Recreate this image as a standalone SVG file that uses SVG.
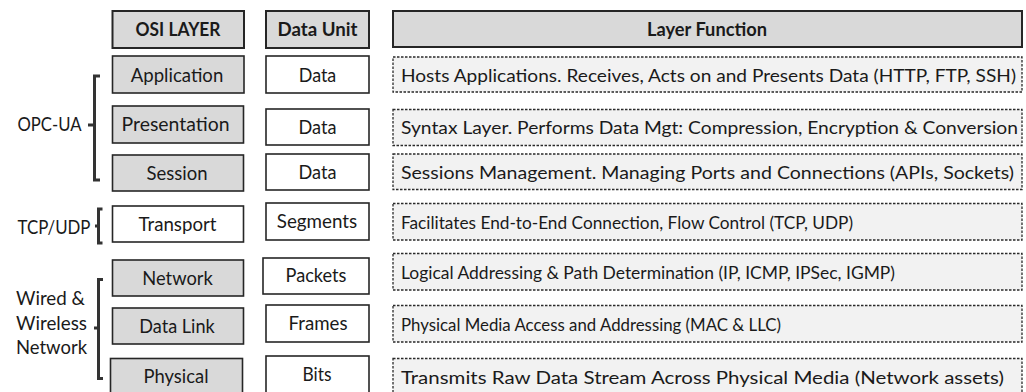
<svg xmlns="http://www.w3.org/2000/svg" width="1026" height="392" viewBox="0 0 1026 392">
<style>
  text { font-family: Lato, "Liberation Sans", Arial, sans-serif; font-size: 19.5px; fill: #1a1a1a; }
  .r { font-size: 18px; }
  .c { text-anchor: middle; }
  .b { font-weight: bold; }
  .hdr { fill: #d9d9d9; stroke: #262626; stroke-width: 2; }
  .gray { fill: #d9d9d9; stroke: #262626; stroke-width: 1.6; }
  .white { fill: #ffffff; stroke: #262626; stroke-width: 1.6; }
  .dash { fill: #f2f2f2; stroke: #2a2a2a; stroke-width: 1.3; stroke-dasharray: 2.5 1.5; }
  .br { fill: none; stroke: #333333; stroke-width: 3; }
</style>
<rect width="1026" height="392" fill="#ffffff"/>

<g id="header">
  <rect class="hdr" x="112.5" y="11" width="131.5" height="37"/>
  <text class="c b" x="178" y="36" textLength="85" lengthAdjust="spacingAndGlyphs">OSI LAYER</text>
  <rect class="hdr" x="266" y="11" width="103" height="37"/>
  <text class="c b" x="317.5" y="36" textLength="80" lengthAdjust="spacingAndGlyphs">Data Unit</text>
  <rect class="hdr" x="393" y="11" width="629" height="36"/>
  <text class="c b" x="707" y="35.5" textLength="120" lengthAdjust="spacingAndGlyphs">Layer Function</text>
</g>

<g id="row-application">
  <rect class="gray" x="112.5" y="56" width="131.5" height="37"/>
  <text class="c" x="177" y="82" textLength="92.5" lengthAdjust="spacingAndGlyphs">Application</text>
  <rect class="white" x="266" y="56" width="103" height="37"/>
  <text class="c" x="317.5" y="82" textLength="37.5" lengthAdjust="spacingAndGlyphs">Data</text>
  <rect class="dash" x="393" y="57" width="629" height="35"/>
  <text class="r" x="401" y="81.5" textLength="615" lengthAdjust="spacingAndGlyphs">Hosts Applications. Receives, Acts on and Presents Data (HTTP, FTP, SSH)</text>
</g>

<g id="row-presentation">
  <rect class="gray" x="112.5" y="106" width="131" height="37"/>
  <text class="c" x="175.5" y="131" textLength="108" lengthAdjust="spacingAndGlyphs">Presentation</text>
  <rect class="white" x="266" y="109" width="103" height="36"/>
  <text class="c" x="317.5" y="133.5" textLength="38" lengthAdjust="spacingAndGlyphs">Data</text>
  <rect class="dash" x="393" y="109.5" width="629" height="36"/>
  <text class="r" x="401" y="134" textLength="617" lengthAdjust="spacingAndGlyphs">Syntax Layer. Performs Data Mgt: Compression, Encryption &amp; Conversion</text>
</g>

<g id="row-session">
  <rect class="gray" x="112.5" y="155" width="131" height="36"/>
  <text class="c" x="177" y="179.5" textLength="61" lengthAdjust="spacingAndGlyphs">Session</text>
  <rect class="white" x="266" y="154" width="103" height="36"/>
  <text class="c" x="317.5" y="178.5" textLength="38" lengthAdjust="spacingAndGlyphs">Data</text>
  <rect class="dash" x="393" y="154" width="629" height="35.5"/>
  <text class="r" x="401" y="178.5" textLength="613" lengthAdjust="spacingAndGlyphs">Sessions Management. Managing Ports and Connections (APIs, Sockets)</text>
</g>

<g id="row-transport">
  <rect class="white" x="112.5" y="206" width="131" height="36"/>
  <text class="c" x="177.5" y="230.5" textLength="78" lengthAdjust="spacingAndGlyphs">Transport</text>
  <rect class="white" x="266" y="203" width="103" height="37"/>
  <text class="c" x="317" y="227.5" textLength="80.5" lengthAdjust="spacingAndGlyphs">Segments</text>
  <rect class="dash" x="393" y="203.5" width="629" height="36.5"/>
  <text class="r" x="401" y="228.5" textLength="452" lengthAdjust="spacingAndGlyphs">Facilitates End-to-End Connection, Flow Control (TCP, UDP)</text>
</g>

<g id="row-network">
  <rect class="gray" x="112.5" y="260" width="131" height="36"/>
  <text class="c" x="177.5" y="284.5" textLength="70.5" lengthAdjust="spacingAndGlyphs">Network</text>
  <rect class="white" x="263" y="258" width="106" height="36"/>
  <text class="c" x="316" y="282" textLength="61" lengthAdjust="spacingAndGlyphs">Packets</text>
  <rect class="dash" x="393" y="253.5" width="629" height="36.5"/>
  <text class="r" x="401" y="278.5" textLength="494" lengthAdjust="spacingAndGlyphs">Logical Addressing &amp; Path Determination (IP, ICMP, IPSec, IGMP)</text>
</g>

<g id="row-datalink">
  <rect class="gray" x="112.5" y="308" width="131" height="36"/>
  <text class="c" x="177" y="332.5" textLength="75.5" lengthAdjust="spacingAndGlyphs">Data Link</text>
  <rect class="white" x="266" y="305" width="103" height="37"/>
  <text class="c" x="318" y="330" textLength="59" lengthAdjust="spacingAndGlyphs">Frames</text>
  <rect class="dash" x="393" y="305.5" width="629" height="36.5"/>
  <text class="r" x="401" y="330.5" textLength="380" lengthAdjust="spacingAndGlyphs">Physical Media Access and Addressing (MAC &amp; LLC)</text>
</g>

<g id="row-physical">
  <rect class="gray" x="110.5" y="358.5" width="132" height="40"/>
  <text class="c" x="176" y="383" textLength="65" lengthAdjust="spacingAndGlyphs">Physical</text>
  <rect class="white" x="266" y="356" width="103" height="42"/>
  <text class="c" x="317" y="381" textLength="29" lengthAdjust="spacingAndGlyphs">Bits</text>
  <rect class="dash" x="393" y="358.5" width="629" height="40"/>
  <text class="r" x="401" y="383.5" textLength="603" lengthAdjust="spacingAndGlyphs">Transmits Raw Data Stream Across Physical Media (Network assets)</text>
</g>

<g id="group-opcua">
  <path class="br" d="M100,76 H94.5 V180 H100 M94.5,125 H88"/>
  <text x="17.5" y="131" textLength="64" lengthAdjust="spacingAndGlyphs">OPC-UA</text>
</g>

<g id="group-tcpudp">
  <path class="br" d="M102.5,209 H98.5 V243 H102.5 M98.5,226 H95"/>
  <text x="17.5" y="234" textLength="73" lengthAdjust="spacingAndGlyphs">TCP/UDP</text>
</g>

<g id="group-network">
  <path class="br" d="M103,279.5 H98.5 V378.5 H103 M98.5,328 H94"/>
  <text x="16" y="305" textLength="69" lengthAdjust="spacingAndGlyphs">Wired &amp;</text>
  <text x="16" y="329.5" textLength="71" lengthAdjust="spacingAndGlyphs">Wireless</text>
  <text x="16" y="354" textLength="71" lengthAdjust="spacingAndGlyphs">Network</text>
</g>

<g id="connectors"></g>
</svg>
